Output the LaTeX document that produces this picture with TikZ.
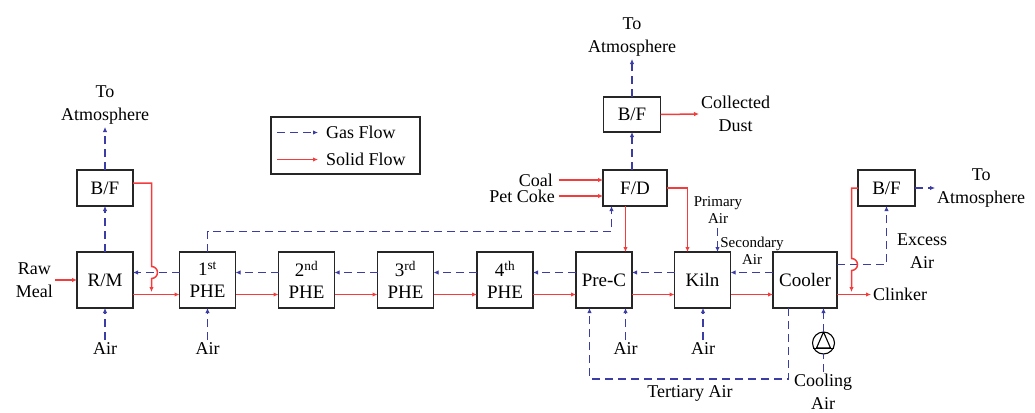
\documentclass[tikz,border=0pt]{standalone}
\usepackage{fontspec}
\setmainfont{Liberation Serif}
\usetikzlibrary{arrows.meta,calc}
\definecolor{gasblue}{RGB}{60,60,165}
\definecolor{solidred}{RGB}{245,60,60}
\tikzset{
  unit/.style={draw=black!85, line width=1.3pt, minimum width=56pt, minimum height=56pt, inner sep=0pt, outer sep=0pt, align=center, font=\fontsize{19}{22}\selectfont},
  smallunit/.style={unit, minimum height=36pt},
  lbl/.style={align=center, inner sep=2pt, font=\fontsize{18}{23}\selectfont},
  tiny/.style={align=center, inner sep=1pt, font=\fontsize{15}{17}\selectfont},
  gas/.style={draw=gasblue, line width=1.5pt, dash pattern=on 8pt off 5pt, -{Latex[length=5pt,width=4.5pt]}},
  gasline/.style={draw=gasblue, line width=1.5pt, dash pattern=on 8pt off 5pt},
  solid flow/.style={draw=solidred, line width=1.5pt, -{Latex[length=5pt,width=4.5pt]}},
}
\begin{document}
\begin{tikzpicture}[x=1pt,y=-1pt]
\useasboundingbox (0,0) rectangle (1035,412);
% main units
\node[unit] (RM) at (105,280) {R/M};
\node[unit] (P1) at (207.5,280) {1\textsuperscript{st}\\PHE};
\node[unit] (P2) at (306.5,280) {2\textsuperscript{nd}\\PHE};
\node[unit] (P3) at (405.5,280) {3\textsuperscript{rd}\\PHE};
\node[unit] (P4) at (505,280) {4\textsuperscript{th}\\PHE};
\node[unit] (PC) at (604,280) {Pre-C};
\node[unit] (K) at (702.5,280) {Kiln};
\node[unit, minimum width=64pt] (C) at (805,280) {Cooler};
\node[smallunit] (BF1) at (105,188) {B/F};
\node[smallunit, minimum width=64pt] (FD) at (635,188) {F/D};
\node[smallunit, minimum width=57pt, minimum height=35pt] (BF2) at (632,114.5) {B/F};
\node[smallunit, minimum width=57pt] (BF3) at (886.5,188) {B/F};

% labels
\node[lbl, anchor=south] (atm1) at (105,127) {To\\Atmosphere};
\node[lbl, anchor=south] (atm2) at (632,59) {To\\Atmosphere};
\node[lbl, anchor=west] (atm3) at (935,188) {To\\Atmosphere};
\node[lbl, anchor=west] (dust) at (699,114) {Collected\\Dust};
\node[lbl, anchor=east] (raw) at (55,280) {Raw\\Meal};
\node[lbl, anchor=west] (clink) at (871,294.5) {Clinker};
\node[lbl, anchor=east, inner sep=0pt] (coal) at (553,180) {Coal};
\node[lbl, anchor=east, inner sep=0pt] (coke) at (555,196) {Pet Coke};
\node[tiny] (prim) at (718,210) {Primary\\Air};
\node[tiny] (sec) at (752,251) {Secondary\\Air};
\coordinate (secin) at (717.5,228);
\node[lbl] (exc) at (922,251) {Excess\\Air};
\node[lbl] (tert) at (690,393) {Tertiary Air};
\node[lbl] (cool) at (823,392) {Cooling\\Air};
\node[lbl, anchor=north] (air1) at (105,340) {Air};
\node[lbl, anchor=north] (air2) at (207.5,340) {Air};
\node[lbl, anchor=north] (air3) at (625.5,340) {Air};
\node[lbl, anchor=north] (air4) at (703,340) {Air};

% pump
\node[draw=black, line width=1.1pt, circle, minimum size=22pt, inner sep=0pt, outer sep=0pt] (pump) at (823.5,343) {};
\draw[line width=1.1pt] (pump.north) -- ($(pump.center)+(-7pt,-5pt)$) -- ($(pump.center)+(7pt,-5pt)$) -- cycle;
\draw[line width=1.1pt] ($(pump.center)+(-10.5pt,-5.5pt)$) -- ($(pump.center)+(10.5pt,-5.5pt)$);

% legend
\node[draw=black!85, line width=1.3pt, minimum width=149pt, minimum height=57pt] (leg) at (345.5,145.5) {};
\coordinate (g1) at (277,132.5); \coordinate (g2) at (318,132.5);
\coordinate (s1) at (277,159.5); \coordinate (s2) at (318,159.5);
\draw[gas] (g1) -- (g2);
\draw[solid flow] (s1) -- (s2);
\node[lbl, anchor=west] (lg) at (324,132) {Gas Flow};
\node[lbl, anchor=west] (ls) at (324,159) {Solid Flow};

% solid flow chain
\draw[solid flow] (raw.east |- RM.west) -- (RM.west);
\foreach \a/\b in {RM/P1,P1/P2,P2/P3,P3/P4,P4/PC,PC/K,K/C}
  \draw[solid flow] ([yshift=-14.5pt]\a.east) -- ([yshift=-14.5pt]\b.west);
\draw[solid flow] ([yshift=-14.5pt]C.east) -- (clink.west);

% gas flow chain
\foreach \a/\b in {P1/RM,P2/P1,P3/P2,P4/P3,PC/P4,K/PC,C/K}
  \draw[gas] ([yshift=7.5pt]\a.west) -- ([yshift=7.5pt]\b.east);

% air inlets
\draw[gas] (air1.north) -- (RM.south);
\draw[gas] (air2.north) -- (P1.south);
\draw[gas] (air3.north) -- (air3.north |- PC.south);
\draw[gas] (air4.north) -- (air4.north |- K.south);

% R/M to B/F to atmosphere
\draw[gas] (RM.north) -- (BF1.south);
\draw[gas] (BF1.north) -- (atm1.south);
% B/F dust back with hop
\draw[solid flow] ([yshift=5pt]BF1.east) -| ($(RM.east)+(18.5pt,13.5pt)$)
   arc[start angle=90, end angle=-90, radius=6pt] -- ($(RM.east)+(18.5pt,-12pt)$);

% PHE1 to F/D
\draw[gas] (P1.north) |- ($(FD.south)+(-23.5pt,-25.5pt)$) -- ([xshift=-23.5pt]FD.south);
% fuel
\draw[solid flow] ([xshift=6pt]coal.east) -- (FD.west |- coal.east);
\draw[solid flow] ([xshift=4pt]coke.east) -- (FD.west |- coke.east);
% F/D outputs
\draw[solid flow] ([xshift=-9.5pt]FD.south) -- ([xshift=-9.5pt]FD.south |- PC.north);
\draw[solid flow] (FD.east) -| ([xshift=-15pt]K.north);
\draw[gas] (FD.north -| BF2.south) -- (BF2.south);
\draw[gas] (BF2.north) -- (atm2.south);
\draw[solid flow] (BF2.east) -- (dust.west);
% secondary air
\draw[gas] (secin) -- (secin |- K.north);

% tertiary air
\draw[gas] ([xshift=-16.5pt]C.south) -- ++(0,71) -| ([xshift=-14.5pt]PC.south);

% cooling air
\draw[gasline] (cool.north -| pump.south) -- (pump.south);
\draw[gas] (pump.north) -- (pump.north |- C.south);

% excess air
\draw[gas] ([yshift=15.5pt]C.east) -| (BF3.south);
\draw[gas] (BF3.east) -- (atm3.west);
\draw[solid flow] (BF3.west) -| ($(C.east)+(14.5pt,21.5pt)$)
   arc[start angle=90, end angle=-90, radius=6pt] -- ($(C.east)+(14.5pt,-12pt)$);
\end{tikzpicture}
\end{document}
